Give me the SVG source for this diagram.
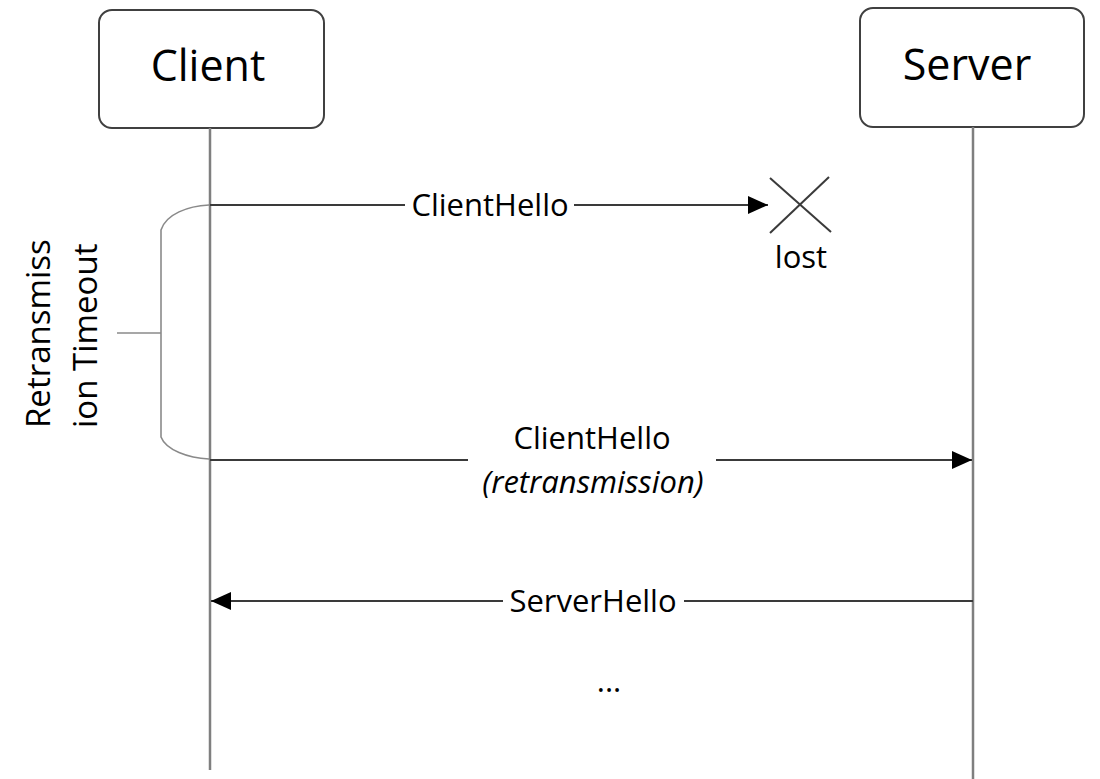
<svg xmlns="http://www.w3.org/2000/svg" width="1100" height="779" viewBox="0 0 1100 779">
<style>
.box{fill:#fff;stroke:#404040;stroke-width:2}
.life{stroke:#7f7f7f;stroke-width:2.5;fill:none}
.msg{stroke:#3a3a3a;stroke-width:2;fill:none}
.brk{stroke:#8a8a8a;stroke-width:1.6;fill:none}
.t{font-family:"Open Sans","Noto Sans",sans-serif;fill:#000}
.big{font-size:43px}
.lbl{font-size:31px}
.it{font-style:italic}
</style>
<defs>
<marker id="ah" markerUnits="userSpaceOnUse" markerWidth="20" markerHeight="18" refX="20" refY="9" orient="auto">
<path d="M0,0 L20,9 L0,18 z" fill="#000"/>
</marker>
</defs>
<rect width="1100" height="779" fill="#fff"/>
<g id="client">
<rect class="box" x="99" y="10" width="225" height="118" rx="13"/>
<text class="t big" x="208" y="81" text-anchor="middle">Client</text>
</g>
<g id="server">
<rect class="box" x="860" y="8" width="224" height="119" rx="13"/>
<text class="t big" x="967" y="80" text-anchor="middle">Server</text>
</g>
<g id="lifelines">
<line class="life" x1="210" y1="128" x2="210" y2="770"/>
<line class="life" x1="973" y1="127" x2="973" y2="779"/>
</g>
<g id="lost-mark">
<line class="msg" x1="770" y1="178" x2="831" y2="232" stroke="#555" stroke-width="1.6"/>
<line class="msg" x1="829" y1="177" x2="770" y2="233" stroke="#555" stroke-width="1.6"/>
<text class="t lbl" x="801" y="268" text-anchor="middle">lost</text>
</g>
<g id="timeout">
<path class="brk" d="M209,205 C188,206 166,214 161,230 L161,437 C166,450 188,458 209,459"/>
<line class="brk" x1="117" y1="333" x2="161" y2="333"/>
<text class="t" font-size="33" transform="translate(50,428) rotate(-90)">Retransmiss</text>
<text class="t" font-size="33" transform="translate(97,428) rotate(-90)">ion Timeout</text>
</g>
<g id="connectors">
<line class="msg" x1="210" y1="205" x2="405" y2="205"/>
<line class="msg" x1="574" y1="205" x2="768" y2="205" marker-end="url(#ah)"/>
<text class="t lbl" x="490" y="216" text-anchor="middle">ClientHello</text>
<line class="msg" x1="210" y1="460" x2="468" y2="460"/>
<line class="msg" x1="716" y1="460" x2="972" y2="460" marker-end="url(#ah)"/>
<text class="t lbl" x="592" y="449" text-anchor="middle">ClientHello</text>
<text class="t lbl it" x="593" y="493" text-anchor="middle">(retransmission)</text>
<line class="msg" x1="973" y1="601" x2="684" y2="601"/>
<line class="msg" x1="503" y1="601" x2="211" y2="601" marker-end="url(#ah)"/>
<text class="t lbl" x="593" y="612" text-anchor="middle">ServerHello</text>
<text class="t lbl" x="609" y="692" text-anchor="middle">...</text>
</g>
</svg>
